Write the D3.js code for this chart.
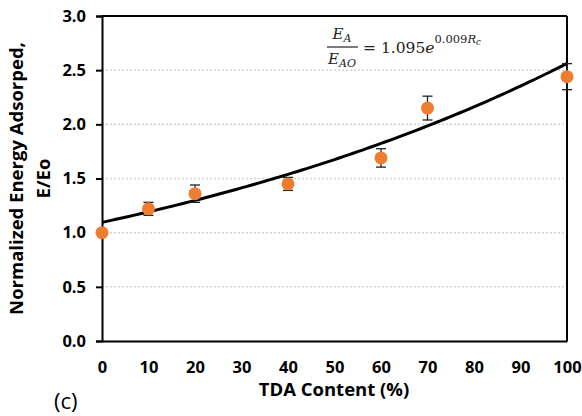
<!DOCTYPE html>
<html>
<head>
<meta charset="utf-8">
<script src="https://cdn.jsdelivr.net/npm/d3@7"></script>
<style>
  html, body { margin: 0; padding: 0; background: #fff; }
  svg { display: block; }
</style>
</head>
<body>
<svg id="chart" width="582" height="416"></svg>
<script>
// TDA content (%) and normalized energy absorbed, with error-bar half-widths
const tdaContent = [0, 10, 20, 40, 60, 70, 100];
const energyRatio = [1.00, 1.22, 1.36, 1.45, 1.69, 2.15, 2.44];
const errorHalf = [0.03, 0.06, 0.08, 0.06, 0.085, 0.11, 0.12];

// exponential trendline E/Eo = a * exp(k * Rc)
const fitA = 1.095;
const fitK = 0.0085;

const xTicks = [0, 10, 20, 30, 40, 50, 60, 70, 80, 90, 100];
const yTicks = [0.0, 0.5, 1.0, 1.5, 2.0, 2.5, 3.0];

const svg = d3.select("#chart");
const plotL = 102, plotR = 567, plotT = 16, plotB = 341;

const x = d3.scaleLinear().domain([0, 100]).range([plotL, plotR]);
const y = d3.scaleLinear().domain([0, 3]).range([plotB, plotT]);

const tickFont = "'Open Sans', sans-serif";

// dotted horizontal gridlines
svg.append("g").selectAll("line")
  .data(yTicks.filter(v => v > 0 && v < 3))
  .join("line")
  .attr("x1", plotL).attr("x2", plotR)
  .attr("y1", d => y(d)).attr("y2", d => y(d))
  .attr("stroke", "#d4d4d4").attr("stroke-width", 1.5)
  .attr("stroke-dasharray", "2,2");

// frame: top and right borders
svg.append("line").attr("x1", plotL).attr("x2", plotR).attr("y1", plotT).attr("y2", plotT)
  .attr("stroke", "#000").attr("stroke-width", 2);
svg.append("line").attr("x1", plotR).attr("x2", plotR).attr("y1", plotT).attr("y2", plotB)
  .attr("stroke", "#000").attr("stroke-width", 2);

// y axis
const yAxis = svg.append("g").attr("transform", `translate(${plotL},0)`)
  .call(d3.axisLeft(y).tickValues(yTicks).tickFormat(d3.format(".1f")).tickSize(6).tickPadding(10));
yAxis.select(".domain").attr("stroke-width", 2);
yAxis.selectAll(".tick line").attr("stroke-width", 2);
yAxis.selectAll("text").attr("font-family", tickFont).attr("font-weight", "bold")
  .attr("font-size", 16.5).attr("fill", "#000");

// x axis (labels only, no tick marks)
const xAxis = svg.append("g").attr("transform", `translate(0,${plotB})`)
  .call(d3.axisBottom(x).tickValues(xTicks).tickSize(0).tickPadding(20));
xAxis.select(".domain").attr("stroke-width", 2);
xAxis.selectAll("text").attr("font-family", tickFont).attr("font-weight", "bold")
  .attr("font-size", 16.5).attr("fill", "#000");

// trendline
const curveX = d3.range(0, 100.5, 1);
svg.append("path")
  .datum(curveX)
  .attr("fill", "none").attr("stroke", "#000").attr("stroke-width", 3)
  .attr("d", d3.line().x(d => x(d)).y(d => y(fitA * Math.exp(fitK * d))));

// error bars
const pts = tdaContent.map((t, i) => ({ t, v: energyRatio[i], e: errorHalf[i] }));
const eb = svg.append("g").attr("stroke", "#222").attr("stroke-width", 1.3);
eb.selectAll("line.v").data(pts).join("line").attr("class", "v")
  .attr("x1", d => x(d.t)).attr("x2", d => x(d.t))
  .attr("y1", d => y(d.v - d.e)).attr("y2", d => y(d.v + d.e));
eb.selectAll("line.top").data(pts).join("line").attr("class", "top")
  .attr("x1", d => x(d.t) - 5).attr("x2", d => x(d.t) + 5)
  .attr("y1", d => y(d.v + d.e)).attr("y2", d => y(d.v + d.e));
eb.selectAll("line.bot").data(pts).join("line").attr("class", "bot")
  .attr("x1", d => x(d.t) - 5).attr("x2", d => x(d.t) + 5)
  .attr("y1", d => y(d.v - d.e)).attr("y2", d => y(d.v - d.e));

// data points
svg.append("g").selectAll("circle").data(pts).join("circle")
  .attr("cx", d => x(d.t)).attr("cy", d => y(d.v)).attr("r", 6.5)
  .attr("fill", "#ED7D31");

// axis titles
svg.append("text")
  .attr("x", 334).attr("y", 396)
  .attr("text-anchor", "middle")
  .attr("font-family", tickFont).attr("font-weight", "bold").attr("font-size", 18.5)
  .text("TDA Content (%)");

const yTitle = svg.append("text")
  .attr("transform", `translate(0,${(plotT + plotB) / 2}) rotate(-90)`)
  .attr("text-anchor", "middle")
  .attr("font-family", tickFont).attr("font-weight", "bold").attr("font-size", 18.5);
yTitle.append("tspan").attr("x", 0).attr("y", 23).text("Normalized Energy Adsorped,");
yTitle.append("tspan").attr("x", 0).attr("y", 50).text("E/Eo");

// panel label
svg.append("text").attr("x", 54).attr("y", 409)
  .attr("font-family", tickFont).attr("font-size", 22).text("(c)");

// trendline equation
const eq = svg.append("g").attr("font-family", "'DejaVu Serif', serif").attr("fill", "#222");
const num = eq.append("text").attr("x", 342).attr("y", 39).attr("text-anchor", "middle").attr("font-size", 15);
num.append("tspan").attr("font-style", "italic").text("E");
num.append("tspan").attr("font-style", "italic").attr("font-size", 11).attr("dy", 3).text("A");
eq.append("line").attr("x1", 327).attr("x2", 358).attr("y1", 47).attr("y2", 47)
  .attr("stroke", "#222").attr("stroke-width", 1.2);
const den = eq.append("text").attr("x", 342).attr("y", 64).attr("text-anchor", "middle").attr("font-size", 15);
den.append("tspan").attr("font-style", "italic").text("E");
den.append("tspan").attr("font-style", "italic").attr("font-size", 11).attr("dy", 3).text("AO");
const rhs = eq.append("text").attr("x", 363).attr("y", 53).attr("font-size", 15.5);
rhs.append("tspan").text("= 1.095");
rhs.append("tspan").attr("font-style", "italic").text("e");
rhs.append("tspan").attr("font-size", 11.5).attr("dy", -10).text("0.009");
rhs.append("tspan").attr("font-size", 11.5).attr("font-style", "italic").text("R");
rhs.append("tspan").attr("font-size", 8.5).attr("font-style", "italic").attr("dy", 2).text("c");
</script>
</body>
</html>
